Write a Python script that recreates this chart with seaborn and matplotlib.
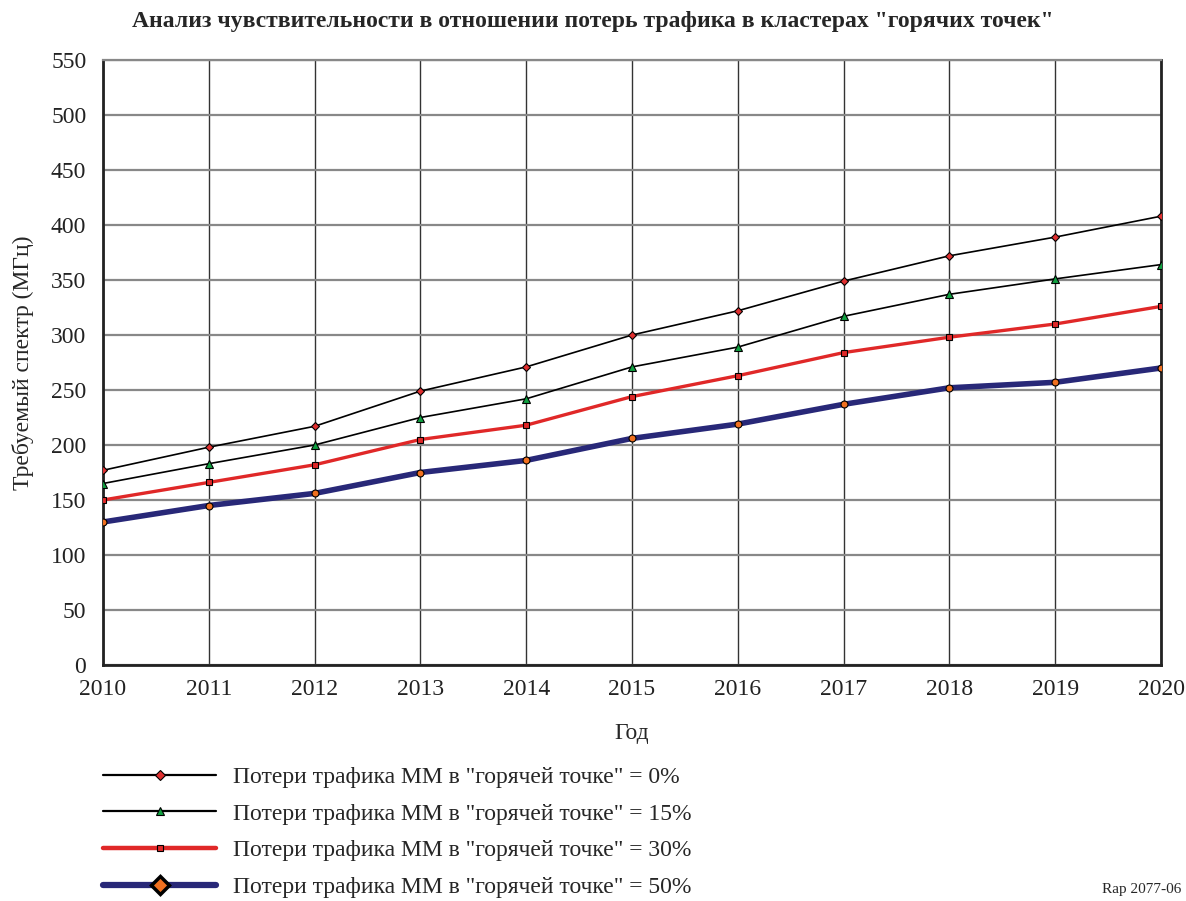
import matplotlib
matplotlib.use("Agg")
import matplotlib.pyplot as plt
from matplotlib.lines import Line2D
import seaborn as sns
import pandas as pd

years = [2010, 2011, 2012, 2013, 2014, 2015, 2016, 2017, 2018, 2019, 2020]
loss_0 = [177, 198, 217, 249, 271, 300, 322, 349, 372, 389, 408]
loss_15 = [165, 183, 200, 225, 242, 271, 289, 317, 337, 351, 364]
loss_30 = [150, 166, 182, 205, 218, 244, 263, 284, 298, 310, 326]
loss_50 = [130, 145, 156, 175, 186, 206, 219, 237, 252, 257, 270]

labels = ['Потери трафика ММ в "горячей точке" = 0%',
          'Потери трафика ММ в "горячей точке" = 15%',
          'Потери трафика ММ в "горячей точке" = 30%',
          'Потери трафика ММ в "горячей точке" = 50%']
title = 'Анализ чувствительности в отношении потерь трафика в кластерах "горячих точек"'
xlabel = 'Год'
ylabel = 'Требуемый спектр (МГц)'
yticks = list(range(0, 551, 50))

sns.set_theme(style="white")
plt.rcParams['font.family'] = ['Liberation Serif', 'DejaVu Serif']

fig = plt.figure(figsize=(11.86, 9.01), dpi=100)
ax = fig.add_axes([103/1186, 1-665/901, (1161-103)/1186, (665-60)/901])

styles = [
    dict(color='black', lw=1.2, marker='D', ms=4.5, mfc='#e03030', mec='black', mew=0.8),
    dict(color='black', lw=1.2, marker='^', ms=6, mfc='#10a040', mec='black', mew=0.8),
    dict(color='#e02828', lw=2.4, marker='s', ms=5, mfc='#e02828', mec='black', mew=0.8),
    dict(color='#282878', lw=4.0, marker='o', ms=5, mfc='#f07020', mec='black', mew=0.8),
]
series = [loss_0, loss_15, loss_30, loss_50]
for vals, st in zip(series, styles):
    df = pd.DataFrame({'x': years, 'y': vals})
    sns.lineplot(data=df, x='x', y='y', ax=ax, color=st['color'], linewidth=st['lw'],
                 marker=st['marker'], markersize=st['ms'], markerfacecolor=st['mfc'],
                 markeredgecolor=st['mec'], markeredgewidth=st['mew'], zorder=3,
                 legend=False)

ax.set_xlim(2010, 2020)
ax.set_ylim(0, 550)
ax.set_xticks(years)
ax.set_yticks(yticks)
ax.set_xticklabels([str(y) for y in years], fontsize=17)
ax.set_yticklabels([str(v) for v in yticks], fontsize=17)
ax.tick_params(axis='y', length=0, pad=12, colors='#222222')
ax.tick_params(axis='x', length=0, pad=10, colors='#222222')
ax.yaxis.grid(True, color='#888888', lw=1.6)
ax.xaxis.grid(True, color='#333333', lw=1.0)
ax.set_axisbelow(True)
for side in ['left', 'right', 'bottom']:
    ax.spines[side].set_color('#222222')
    ax.spines[side].set_linewidth(2)
ax.spines['top'].set_color('#888888')
ax.spines['top'].set_linewidth(1.6)
ax.set_xlabel('')
ax.set_ylabel(ylabel, fontsize=17)
ax.yaxis.set_label_coords((34-103)/1058, 0.5)

fig.text(0.5, 1-21/901, title, ha='center', va='center', fontsize=17, fontweight='bold')
fig.text((103+1161)/2/1186, 1-733/901, xlabel, ha='center', va='center', fontsize=17)
fig.text(1181/1186, 1-889/901, 'Rap 2077-06', ha='right', va='center', fontsize=11)

handles = [
    Line2D([], [], color='black', lw=1.6, marker='D', ms=5, mfc='#e03030', mec='black', mew=0.8),
    Line2D([], [], color='black', lw=1.6, marker='^', ms=6, mfc='#10a040', mec='black', mew=0.8),
    Line2D([], [], color='#e02828', lw=3.2, marker='s', ms=5, mfc='#e02828', mec='black', mew=0.8),
    Line2D([], [], color='#282878', lw=4.5, marker='D', ms=9, mfc='#f07020', mec='black', mew=2.5),
]
fig.legend(handles, labels, loc='upper left', bbox_to_anchor=(94/1186, 1-757/901),
           frameon=False, fontsize=17, handlelength=4.75, handletextpad=0.72,
           labelspacing=0.64, borderaxespad=0)

fig.savefig('out.png', dpi=100)
